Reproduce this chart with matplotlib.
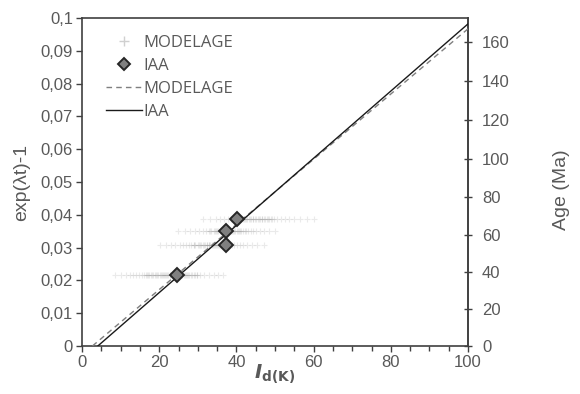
import numpy as np
import matplotlib
matplotlib.use("Agg")
import matplotlib.pyplot as plt
from matplotlib.lines import Line2D

# ---------------- data ----------------
x_ticks = [0, 20, 40, 60, 80, 100]
x_tick_labels = ["0", "20", "40", "60", "80", "100"]
y_ticks = [0, 0.01, 0.02, 0.03, 0.04, 0.05, 0.06, 0.07, 0.08, 0.09, 0.1]
y_tick_labels = ["0", "0,01", "0,02", "0,03", "0,04", "0,05", "0,06", "0,07", "0,08", "0,09", "0,1"]
age_ticks = [0, 20, 40, 60, 80, 100, 120, 140, 160]
age_tick_labels = ["0", "20", "40", "60", "80", "100", "120", "140", "160"]
lam = 5.543e-4  # per Ma

# IAA points
iaa_x = [24.6, 37.3, 37.3, 40.2]
iaa_y = [0.0215, 0.0309, 0.0352, 0.0386]

# MODELAGE clouds (one band per sample)
modelage_y = [0.0215, 0.0309, 0.0352, 0.0386]
modelage_band1 = [8.6, 10.2, 11.5, 12.4, 13.3, 14.0, 14.8, 15.5, 16.1, 16.5, 16.8, 17.4, 18.0, 18.5,
                  18.8, 19.1, 19.6, 20.2, 20.7, 20.9, 21.3, 21.8, 22.1, 22.4, 22.9, 23.2, 23.5, 24.0,
                  24.3, 24.6, 25.1, 25.4, 25.7, 26.3, 26.6, 26.9, 27.5, 27.8, 28.2, 28.9, 29.2, 29.7,
                  30.6, 31.6, 32.8, 34.1, 35.2, 36.5,
                  17.0, 18.2, 19.4, 20.5, 21.6, 22.7, 23.8, 24.9, 26.0, 27.1, 28.4, 29.9]
modelage_band2 = [20.1, 21.8, 23.0, 24.2, 25.3, 26.1, 26.9, 27.6, 28.2, 28.9, 29.4, 30.0, 30.5, 30.9,
                  31.4, 31.9, 32.3, 32.8, 33.2, 33.7, 34.1, 34.6, 35.0, 35.5, 35.9, 36.4, 36.8, 37.3,
                  37.8, 38.3, 38.9, 39.5, 40.2, 40.9, 41.8, 42.8, 44.0, 45.4, 47.2,
                  29.0, 30.2, 31.6, 32.5, 33.0, 33.9, 34.4, 35.2, 35.7, 36.9, 38.0]
modelage_band3 = [24.8, 26.6, 28.0, 29.3, 30.4, 31.3, 32.1, 32.8, 33.5, 34.1, 34.7, 35.2, 35.7, 36.2,
                  36.7, 37.2, 37.7, 38.2, 38.7, 39.2, 39.7, 40.2, 40.7, 41.2, 41.8, 42.4, 43.0, 43.7,
                  44.4, 45.2, 46.1, 47.2, 48.5, 50.0,
                  33.1, 34.4, 34.9, 36.0, 36.4, 37.5, 37.9, 38.9, 39.4, 40.4, 40.9, 42.1]
modelage_band4 = [31.4, 33.2, 34.6, 35.8, 36.8, 37.7, 38.5, 39.2, 39.9, 40.5, 41.1, 41.7, 42.3, 42.8,
                  43.3, 43.9, 44.4, 44.9, 45.5, 46.0, 46.6, 47.2, 47.8, 48.4, 49.1, 49.8, 50.6, 51.5,
                  52.5, 53.6, 54.9, 56.4, 58.2, 60.2,
                  39.6, 40.8, 41.9, 42.6, 43.5, 44.2, 45.1, 45.8, 46.7, 47.4, 48.2, 49.0]
modelage_bands = [modelage_band1, modelage_band2, modelage_band3, modelage_band4]

# Regression lines
fit_modelage_x = [2.7, 100]
fit_modelage_y = [0.0, 0.0967]
fit_iaa_x = [4.1, 100]
fit_iaa_y = [0.0, 0.0982]

# ---------------- plot ----------------
plt.rcParams["font.family"] = ["Liberation Sans", "DejaVu Sans"]
text_col = "#595959"
axis_col = "#404040"

fig = plt.figure(figsize=(5.8, 3.94), dpi=100)
ax = fig.add_axes([82 / 580, 1 - 346 / 394, (468 - 82) / 580, (346 - 18) / 394])

for yv, xs in zip(modelage_y, modelage_bands):
    ax.plot(xs, np.full(len(xs), yv), linestyle="none", marker="+", ms=4.5, mew=0.8,
            color="#7f7f7f", alpha=0.16, zorder=2)

ax.plot(fit_modelage_x, fit_modelage_y, linestyle=(0, (4, 3)), color="#7f7f7f", lw=1.0, zorder=3)
ax.plot(fit_iaa_x, fit_iaa_y, linestyle="-", color="#1a1a1a", lw=1.0, zorder=4)

ax.plot(iaa_x, iaa_y, linestyle="none", marker="D", ms=7.5, mfc="#808080", mec="#262626",
        mew=1.4, zorder=5)

ax.set_xlim(0, 100)
ax.set_ylim(0, 0.1)
ax.set_xticks(x_ticks)
ax.set_xticklabels(x_tick_labels)
ax.set_xticks(np.arange(0, 101, 5), minor=True)
ax.set_yticks(y_ticks)
ax.set_yticklabels(y_tick_labels)

for s in ax.spines.values():
    s.set_color(axis_col)
    s.set_linewidth(1.2)

ax.tick_params(axis="both", which="major", labelsize=12, labelcolor=text_col, color=axis_col,
               length=4, width=1.0, direction="out", pad=2.5)
ax.tick_params(axis="x", which="minor", length=3.5, width=1.0, color=axis_col, direction="out")

# axis titles placed in figure coordinates
fig.text(22 / 580, 1 - 182 / 394, "exp(λt)-1", fontsize=14, color=text_col,
         rotation=90, ha="center", va="center")
fig.text(275 / 580, 1 - 374 / 394, r"$\boldsymbol{I}_{\mathbf{d(K)}}$", fontsize=14,
         color=text_col, ha="center", va="center")
fig.text(562 / 580, 1 - 190 / 394, "Age (Ma)", fontsize=14, color=text_col,
         rotation=90, ha="center", va="center")

sec = ax.secondary_yaxis("right", functions=(lambda y: np.log1p(y) / lam,
                                              lambda t: np.expm1(lam * t)))
sec.set_yticks(age_ticks)
sec.set_yticklabels(age_tick_labels)
sec.spines["right"].set_color(axis_col)
sec.spines["right"].set_linewidth(1.2)
sec.tick_params(axis="y", labelsize=12, labelcolor=text_col, color=axis_col, length=6,
                width=1.0, direction="inout", pad=7)

handles = [
    Line2D([], [], linestyle="none", marker="+", ms=7, color="#d0d0d0"),
    Line2D([], [], linestyle="none", marker="D", ms=6.5, mfc="#808080", mec="#262626", mew=1.4),
    Line2D([], [], linestyle=(0, (4, 3)), color="#7f7f7f", lw=1.0),
    Line2D([], [], linestyle="-", color="#1a1a1a", lw=1.0),
]
labels = ["MODELAGE", "IAA", "MODELAGE", "IAA"]
leg = ax.legend(handles, labels, loc="upper left", bbox_to_anchor=(0.035, 0.98), frameon=False,
                handlelength=2.2, handletextpad=0.1, labelspacing=0.42, borderaxespad=0.2,
                prop={"family": ["Open Sans", "DejaVu Sans"], "size": 12})
for t in leg.get_texts():
    t.set_color(text_col)

fig.savefig("out.png", dpi=100)
